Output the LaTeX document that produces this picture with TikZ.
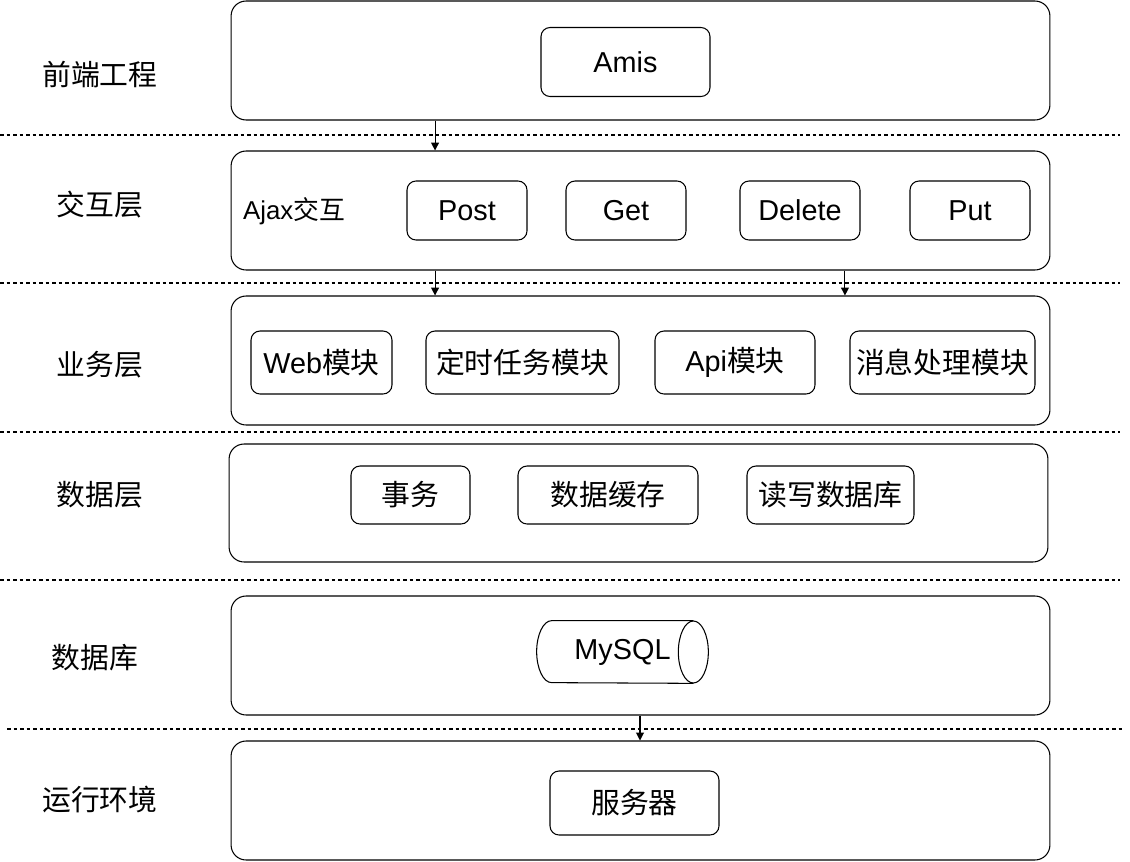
\documentclass[tikz,border=0pt]{standalone}
\usepackage{fontspec}
\setmainfont{Liberation Sans}
\newfontfamily\cjk{Noto Sans CJK SC}
\usetikzlibrary{arrows.meta}

\begin{document}
\begin{tikzpicture}[x=0.02cm,y=-0.02cm,
    layer/.style={draw,line width=0.6pt,rounded corners=0.3cm,minimum width=16.38cm,minimum height=2.38cm},
    item/.style={draw,line width=0.6pt,rounded corners=0.18cm,inner sep=0pt,font=\fontsize{16.4}{20}\selectfont},
    title/.style={font=\cjk\fontsize{16.4}{20}\selectfont},
    sep/.style={line width=0.6pt,dash pattern=on 2pt off 1.7pt},
    arr/.style={line width=0.6pt,-{Triangle[length=4.5pt,width=4.5pt]}}]
    \useasboundingbox (0,0) rectangle (1130,862);
      % dashed separators
      \draw[sep] (0,135) -- (1120,135);
      \draw[sep] (0,283) -- (1120,283);
      \draw[sep] (0,432) -- (1120,432);
      \draw[sep] (0,580) -- (1120,580);
      \draw[sep] (7,729) -- (1122,729);
      % layers
      \node[layer] (front) at (640.5,60.5) {};
      \node[layer] (inter) at (640.5,210.5) {};
      \node[layer,minimum height=2.58cm] (biz) at (640.5,360.5) {};
      \node[layer,minimum height=2.36cm] (data) at (638.5,503) {};
      \node[layer] (db) at (640.5,655.5) {};
      \node[layer] (env) at (640.5,800.5) {};
      % layer titles
      \node[title] (tfront) at (100,75) {前端工程};
      \node[title] (tinter) at (100,205) {交互层};
      \node[title] (tbiz) at (100,365) {业务层};
      \node[title] (tdata) at (100,495) {数据层};
      \node[title] (tdb) at (95,658) {数据库};
      \node[title] (tenv) at (100,800) {运行环境};
      % front end
      \node[item,minimum width=3.38cm,minimum height=1.38cm] (amis) at (625.5,62) {Amis};
      % ajax
      \node[font=\fontsize{14.7}{18}\selectfont] (ajax) at (294,211) {Ajax{\cjk 交互}};
      \node[item,minimum width=2.4cm,minimum height=1.18cm] (post) at (467,210.5) {Post};
      \node[item,minimum width=2.4cm,minimum height=1.18cm] (get) at (626,210.5) {Get};
      \node[item,minimum width=2.4cm,minimum height=1.18cm] (delete) at (800,210.5) {Delete};
      \node[item,minimum width=2.4cm,minimum height=1.18cm] (put) at (970,210.5) {Put};
      % business
      \node[item,minimum width=2.82cm,minimum height=1.26cm] (web) at (321.5,362.5) {Web{\cjk 模块}};
      \node[item,minimum width=3.86cm,minimum height=1.26cm] (timer) at (522.5,362.5) {\cjk 定时任务模块};
      \node[item,minimum width=3.2cm,minimum height=1.26cm] (api) at (735,362.5) {Api{\cjk 模块}};
      \node[item,minimum width=3.7cm,minimum height=1.26cm] (msg) at (942.5,362.5) {\cjk 消息处理模块};
      % data
      \node[item,minimum width=2.38cm,minimum height=1.16cm] (tx) at (410.5,495) {\cjk 事务};
      \node[item,minimum width=3.6cm,minimum height=1.16cm] (cache) at (608,495) {\cjk 数据缓存};
      \node[item,minimum width=3.34cm,minimum height=1.16cm] (rw) at (830.5,495) {\cjk 读写数据库};
      % database
      \node[minimum width=3.42cm,minimum height=1.24cm,inner sep=0pt,
        font=\fontsize{16.4}{20}\selectfont] (mysql) at (622.5,652) {MySQL};
      \draw[line width=0.6pt] ([xshift=-0.3cm]mysql.north east) -- ([xshift=0.3cm]mysql.north west)
        arc[start angle=90,end angle=270,x radius=0.3cm,y radius=0.62cm] -- ([xshift=-0.3cm]mysql.south east);
      \draw[line width=0.6pt] ([xshift=-0.3cm]mysql.east) ellipse[x radius=0.3cm,y radius=0.62cm];
      % runtime
      \node[item,minimum width=3.38cm,minimum height=1.28cm] (server) at (634.5,803) {\cjk 服务器};
      % arrows
      \draw[arr] ([xshift=-4.11cm]front.south) -- ([xshift=-4.11cm]inter.north);
      \draw[arr] ([xshift=-4.11cm]inter.south) -- ([xshift=-4.11cm]biz.north);
      \draw[arr] ([xshift=4.09cm]inter.south) -- ([xshift=4.09cm]biz.north);
      \draw[arr] ([xshift=-0.01cm]db.south) -- ([xshift=-0.01cm]env.north);
    \end{tikzpicture}
\end{document}
